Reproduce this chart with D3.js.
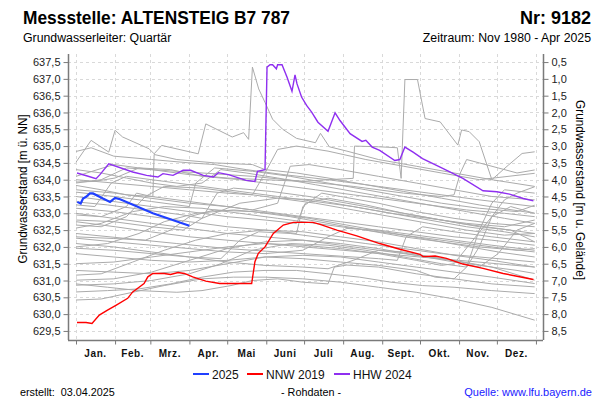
<!DOCTYPE html>
<html><head><meta charset="utf-8">
<script src="https://cdn.jsdelivr.net/npm/d3@7"></script>
<style>
body{margin:0;background:#fff}
svg{display:block}
text{font-family:"Liberation Sans",Arial,Helvetica,sans-serif}
</style>
</head><body>
<svg id="chart" width="600" height="400"></svg>
<script>
// ---------------- DATA ----------------
const monthStarts = [0,31,59,90,120,151,181,212,243,273,304,334,365];
const monthLabels = ["Jan.","Feb.","Mrz.","Apr.","Mai","Juni","Juli","Aug.","Sept.","Okt.","Nov.","Dez."];
const levelTicks = [629.5,630.0,630.5,631.0,631.5,632.0,632.5,633.0,633.5,634.0,634.5,635.0,635.5,636.0,636.5,637.0,637.5];
const depthTicks = [0.5,1.0,1.5,2.0,2.5,3.0,3.5,4.0,4.5,5.0,5.5,6.0,6.5,7.0,7.5,8.0,8.5];
const groundLevel = 638.0;
const legendLabels = ["2025","NNW 2019","HHW 2024"];

// [day of year, level m ü. NN]
const series2025 = [[1,633.34],[3.7,633.29],[5.6,633.44],[8,633.49],[11,633.59],[13.5,633.59],[21.4,633.44],[27,633.34],[31,633.46],[35,633.42],[61,633.0],[90,632.63]];

const seriesNNW2019 = [[0.8,629.75],[8,629.75],[12.7,629.72],[18.5,629.97],[25,630.12],[32,630.27],[41,630.47],[45,630.66],[49,630.77],[54,630.91],[57,631.11],[61,631.21],[70,631.21],[75,631.18],[81,631.24],[86,631.21],[92.6,631.11],[103,630.98],[114,630.91],[139.4,630.91],[142,631.56],[144.7,631.81],[150,632.0],[156.6,632.4],[164.5,632.65],[172.5,632.73],[188,632.73],[193.7,632.67],[207,632.5],[222.8,632.33],[241,632.1],[257,631.93],[273,631.78],[275.4,631.71],[285,631.73],[294,631.66],[307,631.49],[323,631.36],[339,631.21],[355,631.09],[363,631.03]];

const seriesHHW2024 = [[0.8,634.2],[9,634.11],[15.9,634.03],[19,634.15],[26,634.47],[45,634.23],[56,634.13],[65,634.08],[69,634.18],[77,634.13],[85,634.28],[91,634.28],[101,634.13],[109,634.08],[113,634.21],[121,634.15],[135,633.98],[142,633.95],[144,634.25],[150,634.3],[151.6,637.35],[154,637.42],[156,637.42],[159,637.3],[160,637.42],[163.5,637.42],[167.5,637.05],[171.4,636.63],[173.8,637.12],[175.4,636.85],[179,636.46],[183,636.21],[187,636.01],[192,635.71],[200,635.44],[205.6,635.99],[209.5,635.76],[217.5,635.37],[227,635.14],[230,635.17],[235,634.97],[241,634.87],[253,634.57],[257,634.6],[261,634.97],[267.5,634.82],[275,634.63],[291,634.34],[307,634.04],[323,633.67],[334,633.64],[344,633.57],[355,633.44],[363,633.37]];

const greyYears = [
 [[0,634.52],[12,635.17],[26,634.82],[31,635.47],[37,635.27],[58,634.92],[62,634.77],[68,635.02],[97,634.77],[103,635.66],[124,635.27],[133,635.4],[137,635.2],[140,637.35],[145,636.7],[150,636.3],[156,635.8],[164,635.5],[175,635.23],[190,635.1],[194,635.38],[201,634.98],[215,634.85],[240,634.6],[270,634.4],[300,634.2],[330,634.0],[364,633.8]],
 [[0,633.9],[20,634.0],[40,634.35],[60,634.3],[90,634.15],[120,634.05],[150,634.0],[180,633.95],[200,634.0],[220,634.04],[221,635.0],[240,634.98],[255,634.95],[258,634.04],[261,636.98],[271,636.98],[277,635.82],[289,635.72],[303,635.03],[306,635.48],[312,635.43],[320,635.13],[330,634.0],[343,634.43],[354,634.78],[364,634.83]],
 [[0,634.1],[30,634.45],[60,634.3],[100,634.2],[140,634.1],[180,633.95],[220,633.8],[260,633.6],[290,633.5],[300,633.55],[305,634.2],[310,634.6],[320,634.5],[335,634.35],[350,634.2],[364,634.29]],
 [[0,633.93],[15,633.95],[31,634.05],[50,634.35],[75,634.3],[100,634.1],[130,634.0],[160,633.85],[190,633.7],[220,633.55],[250,633.4],[280,633.25],[310,633.1],[340,633.0],[364,632.9]],
 [[0,633.83],[20,633.7],[40,633.55],[61,633.5],[62,634.75],[80,634.6],[110,634.5],[140,634.45],[150,634.3],[175,634.2],[200,634.05],[230,633.85],[260,633.65],[290,633.45],[320,633.25],[364,633.0]],
 [[0,633.63],[30,633.5],[60,633.35],[90,633.2],[95,633.9],[110,634.35],[140,634.25],[170,634.1],[200,633.9],[230,633.7],[260,633.5],[290,633.3],[320,633.15],[350,633.05],[364,633.24]],
 [[0,633.34],[25,633.25],[55,633.1],[85,632.95],[100,632.85],[112,633.6],[125,633.75],[155,633.65],[185,633.5],[215,633.3],[245,633.1],[275,632.9],[305,632.7],[335,632.55],[364,632.4]],
 [[0,633.15],[30,633.05],[60,632.9],[90,632.75],[120,632.6],[150,632.5],[175,632.4],[180,633.2],[195,633.6],[210,633.5],[240,633.3],[270,633.05],[300,632.85],[330,632.7],[364,632.6]],
 [[0,632.95],[20,632.9],[40,633.2],[48,633.6],[60,633.5],[90,633.35],[120,633.2],[150,633.05],[180,632.9],[210,632.75],[240,632.6],[270,632.45],[300,632.3],[330,632.2],[364,632.05]],
 [[0,632.8],[30,632.75],[60,632.6],[85,632.5],[100,632.85],[130,633.3],[160,633.45],[190,633.4],[220,633.2],[250,633.0],[280,632.8],[310,632.6],[340,632.45],[364,632.3]],
 [[0,632.75],[31,632.6],[59,632.45],[90,632.3],[120,632.2],[150,632.1],[181,632.0],[212,631.9],[243,631.8],[273,631.7],[304,631.6],[334,631.5],[364,631.4]],
 [[0,632.56],[20,632.7],[45,633.05],[70,633.2],[100,633.15],[130,633.0],[160,632.85],[190,632.7],[220,632.55],[250,632.4],[280,632.25],[310,632.1],[340,631.95],[364,631.85]],
 [[0,632.3],[30,632.25],[55,632.2],[75,632.5],[90,632.9],[110,633.1],[140,633.05],[170,632.9],[200,632.7],[230,632.5],[260,632.3],[290,632.15],[320,632.0],[350,631.9],[364,631.95]],
 [[0,632.26],[30,632.15],[60,632.05],[90,631.95],[120,631.85],[150,631.8],[180,631.9],[200,632.3],[215,632.55],[240,632.5],[270,632.35],[300,632.2],[330,632.05],[364,631.9]],
 [[0,632.0],[25,632.1],[50,632.4],[70,632.75],[95,633.0],[125,633.1],[155,633.0],[185,632.85],[215,632.65],[245,632.45],[275,632.25],[305,632.05],[335,631.85],[364,631.7]],
 [[0,631.96],[30,631.9],[60,631.8],[90,631.7],[115,631.65],[130,632.2],[145,632.45],[170,632.4],[200,632.25],[230,632.1],[260,631.95],[290,631.8],[320,631.7],[350,631.6],[364,631.55]],
 [[0,631.16],[20,631.2],[45,631.55],[70,631.9],[95,632.2],[120,632.4],[150,632.5],[180,632.45],[210,632.3],[240,632.15],[270,631.95],[300,631.75],[330,631.6],[364,631.4]],
 [[0,631.01],[30,631.05],[60,631.25],[90,631.6],[120,631.95],[150,632.15],[180,632.2],[210,632.1],[240,631.95],[270,631.75],[300,631.55],[320,631.4],[335,631.8],[350,632.5],[364,632.7]],
 [[0,630.86],[30,630.9],[60,631.0],[90,631.2],[115,631.5],[140,631.9],[170,632.1],[200,632.05],[230,631.9],[260,631.7],[290,631.5],[310,631.4],[320,632.0],[330,632.9],[340,633.4],[350,633.6],[364,633.79]],
 [[0,630.66],[25,630.7],[50,630.75],[75,630.9],[100,631.1],[125,631.25],[150,631.3],[175,631.3],[200,631.2],[225,631.1],[250,630.95],[275,630.85],[300,630.8],[330,630.7],[364,630.61]],
 [[0,630.42],[20,630.45],[45,630.65],[70,630.85],[100,631.05],[125,631.1],[150,631.1],[180,631.05],[210,630.95],[240,630.8],[270,630.65],[300,630.45],[330,630.2],[364,629.82]],
 [[0,630.9],[25,630.8],[50,630.7],[80,630.65],[100,630.7],[123,630.85],[140,631.0],[160,631.05],[180,630.95],[200,630.9],[205,631.4],[215,631.46],[240,631.4],[270,631.2],[300,631.05],[330,630.9],[364,630.81]],
 [[0,633.5],[30,633.35],[60,633.2],[90,633.05],[120,632.9],[150,632.8],[175,632.7],[182,633.3],[200,633.45],[230,633.25],[260,633.0],[290,632.8],[320,632.6],[345,632.5],[364,632.15]],
 [[0,631.5],[30,631.55],[60,631.7],[90,631.85],[120,632.0],[150,632.1],[180,632.05],[210,631.95],[240,631.8],[270,631.6],[290,631.45],[300,631.5],[315,632.2],[330,632.9],[345,633.2],[364,633.0]],
 [[0,632.1],[30,632.0],[60,631.85],[90,631.7],[120,631.55],[150,631.45],[180,631.4],[200,631.35],[220,631.6],[240,631.9],[260,631.85],[290,631.65],[320,631.45],[350,631.3],[364,631.21]],
 [[0,633.0],[30,632.85],[60,632.7],[90,632.55],[120,632.4],[150,632.3],[180,632.2],[210,632.05],[240,631.9],[270,631.75],[300,631.6],[330,631.4],[364,631.01]],
 [[0,631.3],[30,631.25],[60,631.2],[90,631.3],[120,631.5],[150,631.7],[180,631.75],[210,631.7],[240,631.55],[270,631.4],[300,631.25],[330,631.1],[364,630.91]],
 [[0,632.65],[20,632.6],[40,632.9],[55,633.5],[70,633.8],[100,633.75],[130,633.6],[160,633.45],[190,633.3],[220,633.1],[250,632.9],[280,632.7],[310,632.5],[340,632.35],[364,632.4]],
 [[0,631.8],[30,631.7],[60,631.6],[90,631.55],[120,631.6],[150,631.7],[180,631.65],[210,631.55],[240,631.45],[270,631.3],[285,631.1],[300,631.05],[310,631.4],[320,632.5],[330,633.3],[340,633.7],[364,633.6]],
 [[0,634.3],[20,634.2],[40,634.05],[60,633.9],[80,633.8],[100,633.9],[115,634.3],[135,634.2],[160,634.05],[190,633.85],[220,633.65],[250,633.45],[280,633.25],[310,633.05],[340,632.85],[364,632.7]],
 [[0,633.7],[31,633.6],[59,633.45],[90,633.3],[120,633.2],[140,633.1],[160,633.3],[170,634.4],[185,634.45],[210,634.3],[240,634.1],[270,633.9],[300,633.7],[330,633.5],[364,633.4]],
 [[0,634.0],[30,633.9],[60,633.8],[90,633.7],[120,633.6],[140,633.55],[150,634.2],[160,634.9],[175,635.0],[200,634.85],[230,634.6],[260,634.4],[290,634.2],[320,634.0],[364,634.19]],
 [[0,632.4],[40,632.25],[80,632.1],[120,631.95],[160,631.85],[200,631.75],[240,631.65],[255,631.6],[262,632.3],[275,632.6],[300,632.45],[330,632.3],[364,632.15]],
 [[0,633.25],[15,633.2],[28,633.9],[40,634.1],[70,633.95],[100,633.8],[130,633.65],[160,633.5],[190,633.35],[220,633.2],[250,633.0],[280,632.85],[310,632.7],[340,632.6],[364,632.8]],
 [[0,634.84],[12,634.95],[30,634.7],[60,634.6],[90,634.5],[110,634.45],[135,634.3],[165,634.15],[200,634.0],[240,633.8],[280,633.6],[320,633.4],[364,633.2]]
];

// ---------------- DRAW ----------------
const svg = d3.select("#chart");
const L = 68, R = 543, T = 54, B = 340;
const x = d3.scaleLinear().domain([-6.35, 370.6]).range([L, R]);
const y = d3.scaleLinear().domain([629.23, 637.74]).range([B, T]);
const yDepth = d3.scaleLinear().domain([groundLevel-629.23, groundLevel-637.74]).range([B, T]);
const fmt = d => d3.format(".1f")(d).replace(".", ",");

// grid
const grid = svg.append("g").attr("stroke","#d9d9d9").attr("stroke-dasharray","3,3").attr("stroke-width",1);
levelTicks.forEach(v => grid.append("line").attr("x1",L).attr("x2",R).attr("y1",Math.round(y(v))+0.5).attr("y2",Math.round(y(v))+0.5));
monthStarts.forEach(d => grid.append("line").attr("x1",Math.round(x(d))+0.5).attr("x2",Math.round(x(d))+0.5).attr("y1",T).attr("y2",B));

// lines
const line = d3.line().x(d => x(d[0])).y(d => y(d[1]));
const gl = svg.append("g");
greyYears.forEach(s => gl.append("path").attr("d", line(s)).attr("fill","none").attr("stroke","#ababab").attr("stroke-width",1));
svg.append("path").attr("d", line(seriesHHW2024)).attr("fill","none").attr("stroke","#8f2ff0").attr("stroke-width",1.4);
svg.append("path").attr("d", line(seriesNNW2019)).attr("fill","none").attr("stroke","#ff0000").attr("stroke-width",1.4);
svg.append("path").attr("d", line(series2025)).attr("fill","none").attr("stroke","#2040ff").attr("stroke-width",2.2);

// axes
const axisColor = "#7a7a7a";
const leftAxis = svg.append("g").attr("transform",`translate(${L+0.5},0)`)
  .call(d3.axisLeft(y).tickValues(levelTicks).tickFormat(fmt).tickSize(5).tickSizeOuter(0));
const rightAxis = svg.append("g").attr("transform",`translate(${R+0.5},0)`)
  .call(d3.axisRight(yDepth).tickValues(depthTicks).tickFormat(fmt).tickSize(5).tickSizeOuter(0));
const bottomAxis = svg.append("g").attr("transform",`translate(0,${B+0.5})`)
  .call(d3.axisBottom(x).tickValues(monthStarts).tickFormat("").tickSize(4).tickSizeOuter(0));
[leftAxis,rightAxis,bottomAxis].forEach(a => {
  a.select(".domain").attr("stroke",axisColor).attr("stroke-width",1.5);
  a.selectAll(".tick line").attr("stroke",axisColor);
  a.selectAll(".tick text").attr("fill","#222").style("font-size","11px");
});
leftAxis.select(".domain").attr("d",`M0,${T}V${B}`);
rightAxis.select(".domain").attr("d",`M0,${T}V${B}`);
bottomAxis.select(".domain").attr("d",`M${L},0H${R}`);
leftAxis.selectAll(".tick text").attr("x",-8);
rightAxis.selectAll(".tick text").attr("x",8);

// month labels
monthLabels.forEach((m,i) => {
  svg.append("text").attr("x", x((monthStarts[i]+monthStarts[i+1])/2)).attr("y",357)
    .attr("text-anchor","middle").style("font-size","10px").style("font-weight","bold")
    .style("letter-spacing","0.6px").attr("fill","#111").text(m);
});

// titles
svg.append("text").attr("x",23).attr("y",24).style("font-size","18px").style("font-weight","bold")
  .attr("textLength",267).attr("lengthAdjust","spacingAndGlyphs").text("Messstelle: ALTENSTEIG B7 787");
svg.append("text").attr("x",591).attr("y",24).attr("text-anchor","end").style("font-size","18px").style("font-weight","bold")
  .text("Nr: 9182");
svg.append("text").attr("x",23).attr("y",42).style("font-size","12.3px").text("Grundwasserleiter: Quartär");
svg.append("text").attr("x",591).attr("y",42).attr("text-anchor","end").style("font-size","12.3px").text("Zeitraum: Nov 1980 - Apr 2025");

// axis titles
svg.append("text").attr("transform","translate(27,189) rotate(-90)").attr("text-anchor","middle")
  .style("font-size","13px").attr("textLength",149).attr("lengthAdjust","spacingAndGlyphs").text("Grundwasserstand [m ü. NN]");
svg.append("text").attr("transform","translate(576,190) rotate(90)").attr("text-anchor","middle")
  .style("font-size","13px").attr("textLength",180).attr("lengthAdjust","spacingAndGlyphs").text("Grundwasserstand [m u. Gelände]");

// legend
const legendColors = ["#2040ff","#ff0000","#8f2ff0"];
const legendX = [193,247,334];
legendLabels.forEach((lab,i) => {
  svg.append("line").attr("x1",legendX[i]).attr("x2",legendX[i]+16).attr("y1",374).attr("y2",374)
    .attr("stroke",legendColors[i]).attr("stroke-width",2);
  svg.append("text").attr("x",legendX[i]+19).attr("y",378.5).style("font-size","12px").attr("fill","#111").text(lab);
});

// footer
svg.append("text").attr("x",20).attr("y",396).style("font-size","10.8px").style("white-space","pre").text("erstellt:  03.04.2025");
svg.append("text").attr("x",311).attr("y",396).attr("text-anchor","middle").style("font-size","10.8px").text("- Rohdaten -");
svg.append("text").attr("x",592).attr("y",396).attr("text-anchor","end").style("font-size","11px").attr("fill","#1a1aff").text("Quelle: www.lfu.bayern.de");
</script>
</body></html>
